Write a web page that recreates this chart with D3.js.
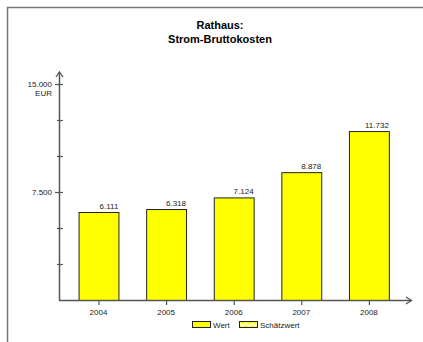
<!DOCTYPE html>
<html><head><meta charset="utf-8">
<script src="https://cdn.jsdelivr.net/npm/d3@7"></script>
<style>body{margin:0;background:#fff}svg{display:block;font-family:"Liberation Sans",Arial,sans-serif}</style>
</head><body><svg id="c" width="423" height="342"></svg>
<script>
const years = ["2004","2005","2006","2007","2008"];
const values = [6111, 6318, 7124, 8878, 11732];
const yTickValues = [0, 2500, 5000, 7500, 10000, 12500, 15000];
const yTickLabels = {7500: "7.500", 15000: "15.000"};
const titleLines = ["Rathaus:", "Strom-Bruttokosten"];
const legendItems = ["Wert", "Schätzwert"];
const unit = "EUR";

const svg = d3.select("#c");
const fmt = v => d3.format(",.0f")(v).replace(/,/g, ".");

// frame
svg.append("path").attr("d","M7.5,342V7.5H423").attr("fill","none").attr("stroke","#777").attr("stroke-width",1.5);

// title
svg.append("g").selectAll("text").data(titleLines).join("text")
  .attr("x",220).attr("y",(d,i)=>29+i*14).attr("text-anchor","middle")
  .attr("font-size",11).attr("font-weight","bold").attr("fill","#000").text(d=>d);

const y = d3.scaleLinear().domain([0,15000]).range([300,84]);
const x = d3.scaleBand().domain(years).range([64.7,402.7]).paddingInner(0.41).paddingOuter(0.205);

const defs = svg.append("defs");
const pat = defs.append("pattern").attr("id","zig").attr("patternUnits","userSpaceOnUse")
  .attr("x",239.5).attr("y",321.5).attr("width",6).attr("height",6);
pat.append("rect").attr("width",6).attr("height",6).attr("fill","#ffff00");
pat.append("path").attr("d","M0,1.5L3,4.5L6,1.5").attr("fill","none").attr("stroke","#fff").attr("stroke-width",1.6);

// bars
svg.append("g").selectAll("rect").data(values).join("rect")
  .attr("x",(d,i)=>x(years[i])+0.5).attr("y",d=>y(d)+0.5)
  .attr("width",x.bandwidth()).attr("height",d=>y(0)-y(d))
  .attr("fill","#ffff00").attr("stroke","#222").attr("stroke-width",1);

// value labels
svg.append("g").selectAll("text").data(values).join("text")
  .attr("x",(d,i)=>x(years[i])+x.bandwidth()).attr("y",d=>y(d)-3)
  .attr("text-anchor","end").attr("font-size",8).attr("fill","#222").text(d=>fmt(d));

// y axis
const ax = svg.append("g").attr("stroke","#555");
ax.append("line").attr("x1",59.5).attr("x2",59.5).attr("y1",300.5).attr("y2",73).attr("stroke-width",1.5);
ax.append("path").attr("d","M56,77L59.5,72L63,77").attr("fill","none").attr("stroke-width",1.3);
ax.selectAll(".yt").data(yTickValues.filter(v=>v>0)).join("line")
  .attr("x1",d=>yTickLabels[d]?55:57).attr("x2",63)
  .attr("y1",d=>y(d)+0.5).attr("y2",d=>y(d)+0.5).attr("stroke-width",1.2);
svg.append("g").selectAll("text").data(yTickValues.filter(v=>yTickLabels[v])).join("text")
  .attr("x",52).attr("y",d=>y(d)+3).attr("text-anchor","end").attr("font-size",8).attr("fill","#222")
  .text(d=>yTickLabels[d]);
svg.append("text").attr("x",52).attr("y",y(15000)+12).attr("text-anchor","end").attr("font-size",8).attr("fill","#222").text(unit);

// x axis
ax.append("line").attr("x1",59).attr("x2",411).attr("y1",300.5).attr("y2",300.5).attr("stroke-width",1.5);
ax.append("path").attr("d","M406,297L411.5,300.5L406,304").attr("fill","none").attr("stroke-width",1.3);
ax.selectAll(".xt").data(years).join("line")
  .attr("x1",d=>x(d)+x.bandwidth()/2+0.5).attr("x2",d=>x(d)+x.bandwidth()/2+0.5)
  .attr("y1",300).attr("y2",305).attr("stroke-width",1.2);
svg.append("g").selectAll("text").data(years).join("text")
  .attr("x",d=>x(d)+x.bandwidth()/2).attr("y",315).attr("text-anchor","middle")
  .attr("font-size",8).attr("fill","#222").text(d=>d);

// legend
const lg = svg.append("g");
const lx = [192, 239];
lg.selectAll("rect").data(legendItems).join("rect")
  .attr("x",(d,i)=>lx[i]+0.5).attr("y",321.5).attr("width",18).attr("height",6)
  .attr("fill",(d,i)=>i===0?"#ffff00":"url(#zig)").attr("stroke","#222").attr("stroke-width",1);
lg.selectAll("text").data(legendItems).join("text")
  .attr("x",(d,i)=>lx[i]+21).attr("y",328).attr("font-size",8).attr("fill","#222").text(d=>d);
</script></body></html>
